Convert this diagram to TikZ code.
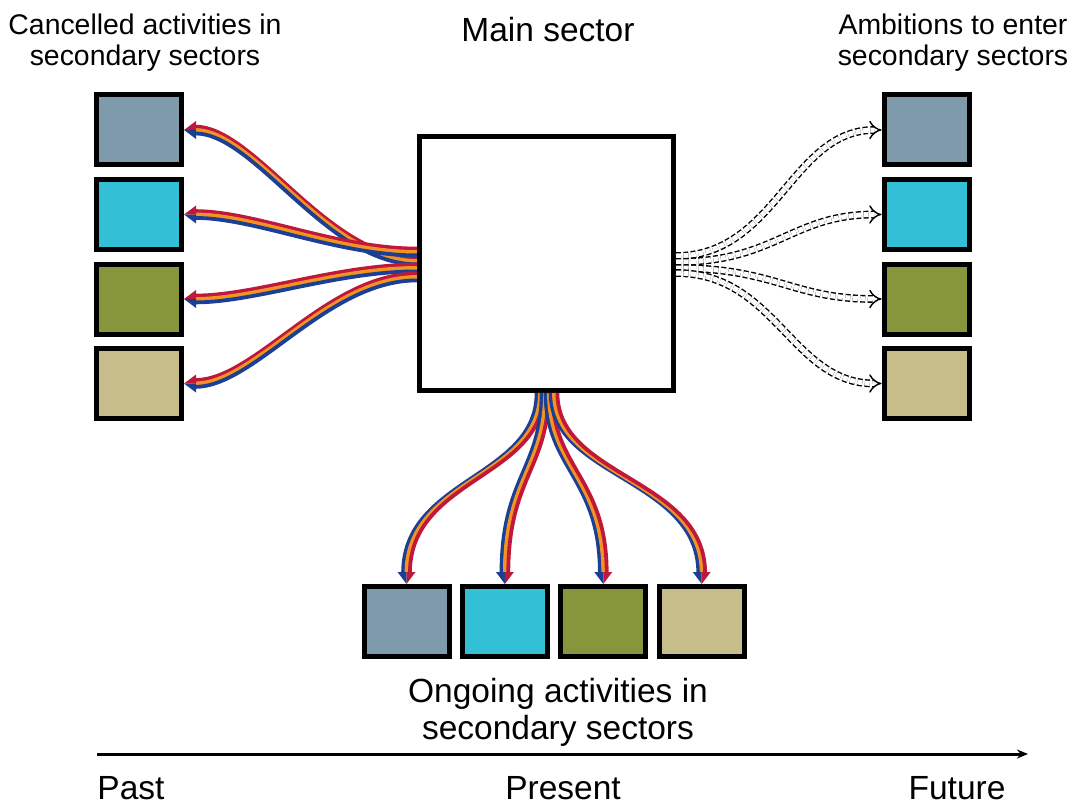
\documentclass[tikz,border=0pt]{standalone}
\usepackage{fontspec}
\setmainfont{Liberation Sans}
\usetikzlibrary{arrows.meta}
\definecolor{boxGrey}{HTML}{7F9BAB}
\definecolor{boxCyan}{HTML}{33BFD6}
\definecolor{boxOlive}{HTML}{87963A}
\definecolor{boxKhaki}{HTML}{C6BD8B}
\definecolor{ribRed}{HTML}{C0183A}
\definecolor{ribOrange}{HTML}{F39322}
\definecolor{ribBlue}{HTML}{1B3F94}

\begin{document}
\begin{tikzpicture}[x=1pt,y=-1pt]
	\tikzset{sector/.style={draw=black,line width=5pt,inner sep=0pt,minimum width=85pt,minimum height=70pt},
		ribbon/.style={line width=3.8pt},
		plan/.style={double,double distance=5pt,line width=1.4pt,dash pattern=on 5pt off 2.5pt,-{Implies}},
		small label/.style={font=\fontsize{28.4}{31}\selectfont,align=center,inner sep=0pt},
		big label/.style={font=\fontsize{33.5}{37}\selectfont,align=center,inner sep=0pt},
		time label/.style={font=\fontsize{33.5}{37}\selectfont,inner sep=0pt}}
	\useasboundingbox (0,0) rectangle (1073,805);

	% sectors
	\node[sector,fill=white,minimum width=254pt,minimum height=254pt] (main) at (546.5,263.5) {};
	\foreach \col [count=\i] in {boxGrey,boxCyan,boxOlive,boxKhaki} {
		\node[sector,fill=\col] (l\i) at (139,{130+(\i-1)*84.5}) {};
		\node[sector,fill=\col] (r\i) at (926.5,{130+(\i-1)*84.5}) {};
		\node[sector,fill=\col] (b\i) at ({406.5+(\i-1)*98.4},621.5) {};
	}

	% past: cancelled activities
	\foreach \i/\ty/\ca in {1/261/90, 2/252/80, 3/268/80, 4/277/90} {
		\coordinate (lt\i) at (main.west |- 0,\ty);
		\foreach \sh/\col in {3.4/ribRed,0/ribOrange,-3.4/ribBlue}
			\draw[ribbon,\col,transform canvas={yshift=\sh pt}] (lt\i) .. controls +(-\ca,0) and +(60,0) .. ([xshift=11pt]l\i.east);
		\fill[ribRed] (l\i.east) -- ++(12,-9) -- ++(0,9) -- cycle;
		\fill[ribBlue] (l\i.east) -- ++(12,9) -- ++(0,-9) -- cycle;
	}

	% present: ongoing activities
	\foreach \i/\tx/\ca in {1/540/85, 2/545/75, 3/549/75, 4/554/85} {
		\coordinate (bt\i) at (\tx,0 |- main.south);
		\foreach \sh/\col in {-3.4/ribBlue,0/ribOrange,3.4/ribRed}
			\draw[ribbon,\col,transform canvas={xshift=\sh pt}] (bt\i) .. controls +(0,\ca) and +(0,-95) .. ([yshift=11pt]b\i.north);
		\fill[ribBlue] (b\i.north) -- ++(-9,-12) -- ++(9,0) -- cycle;
		\fill[ribRed] (b\i.north) -- ++(9,-12) -- ++(-9,0) -- cycle;
	}

	% future: ambitions
	\foreach \i/\ty in {1/256, 2/262, 3/268, 4/273} {
		\coordinate (rt\i) at (main.east |- 0,\ty);
		\draw[plan] (rt\i) .. controls +(100,0) and +(-90,0) .. (r\i.west);
	}

	% labels
	\node[small label] (lblCancelled) at (145,43) {Cancelled activities in\\secondary sectors};
	\node[big label] (lblMain) at (548,30) {Main sector};
	\node[small label] (lblAmbitions) at (953,43) {Ambitions to enter\\secondary sectors};
	\node[big label] (lblOngoing) at (558,712) {Ongoing activities in\\secondary sectors};

	% time axis
	\coordinate (tStart) at (97,754);
	\coordinate (tEnd) at (1028,754);
	\draw[line width=3pt,-{Stealth[length=11pt,width=9pt]}] (tStart) -- (tEnd);
	\node[time label] (past) at (131,788) {Past};
	\node[time label] (present) at (563,788) {Present};
	\node[time label] (future) at (957,788) {Future};
\end{tikzpicture}
\end{document}
